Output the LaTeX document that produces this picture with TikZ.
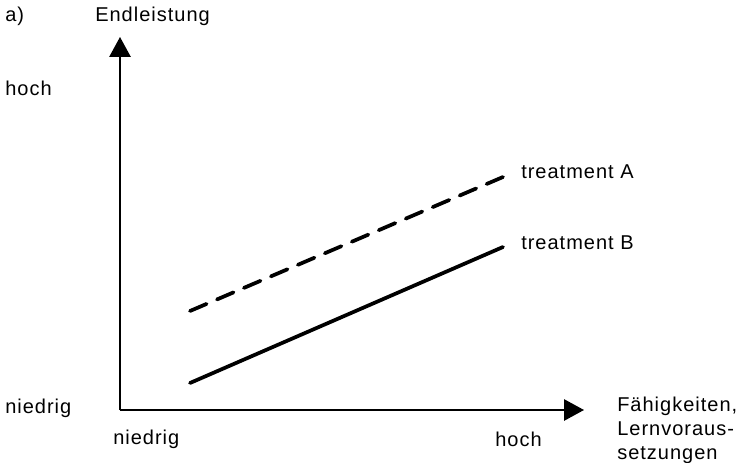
\documentclass[tikz,border=0pt]{standalone}
\usepackage{fontspec}
\setmainfont[LetterSpace=5]{Liberation Sans}
\usetikzlibrary{arrows.meta}
\tikzset{
  axis/.style={line width=1.4pt, -{Triangle[length=15pt,width=16pt]}},
  trend/.style={line width=2.8pt, line cap=round},
  lbl/.style={font=\fontsize{15}{18}\selectfont, inner sep=0pt}
}
\begin{document}
\begin{tikzpicture}[x=0.75pt,y=-0.75pt]
    \useasboundingbox (0,0) rectangle (742,463);
    \coordinate (O) at (120,410);
    \coordinate (ytip) at (120,37);
    \coordinate (xtip) at (584,410);
    \draw[axis] (O) -- (ytip);
    \draw[axis] (O) -- (xtip);
	\coordinate (A0) at (190,311);
	\coordinate (A1) at (503,177);
	\coordinate (B0) at (190,383);
	\coordinate (B1) at (503,247);
	\draw[trend, dash pattern=on 13.5pt off 8.5pt] (A0) -- (A1);
	\draw[trend] (B0) -- (B1);
	\node[lbl, anchor=west] (part) at (5,16) {a)};
	\node[lbl, anchor=west] (ylabel) at (95,16) {Endleistung};
	\node[lbl, anchor=west] (yhigh) at (5,88) {hoch};
	\node[lbl, anchor=west] (ylow) at (5,408) {niedrig};
	\node[lbl, anchor=west] (xlow) at (113,439) {niedrig};
	\node[lbl, anchor=west] (xhigh) at (495,439) {hoch};
	\node[lbl, anchor=north west, align=left] (xlabel) at (617,397) {Fähigkeiten,\\Lernvoraus-\\setzungen};
	\node[lbl, anchor=west] (labA) at (521,172) {treatment A};
	\node[lbl, anchor=west] (labB) at (521,243) {treatment B};
\end{tikzpicture}
\end{document}
